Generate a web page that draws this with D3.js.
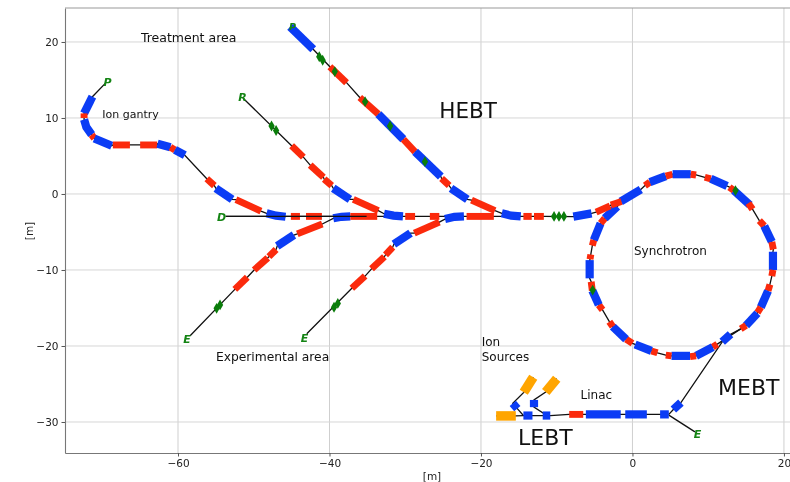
<!DOCTYPE html>
<html>
<head>
<meta charset="utf-8">
<script src="https://cdn.jsdelivr.net/npm/d3@7/dist/d3.min.js"></script>
<style>
html,body{margin:0;padding:0;background:#fff;overflow:hidden}
text{font-family:"DejaVu Sans",sans-serif}
svg{display:block;filter:blur(0.4px)}
</style>
</head>
<body>
<svg id="chart" width="790" height="482"></svg>
<script>
// Beamline elements in metres: [kind, x1, y1, (xm, ym,) x2, y2]. B = dipole, Q = quadrupole, S = source
const gantryMarks = [
 ["B",-71.3,12.8,-72.4,10.6],["Q",-72.4,10.6,-72.4,10.0],["B",-72.4,9.8,-72.1,8.8,-71.4,7.8],["Q",-71.4,7.8,-71.05,7.3],
 ["B",-71.05,7.3,-68.75,6.35],["Q",-68.6,6.45,-66.35,6.45],["Q",-65.0,6.45,-62.75,6.45],["B",-62.7,6.6,-61.0,6.15],
 ["Q",-61.0,6.15,-60.4,5.8],["B",-60.4,5.8,-59.1,5.1],["Q",-56.2,2.0,-55.2,1.1],["B",-55.0,0.75,-52.85,-0.7],
 ["Q",-52.35,-0.75,-49.05,-2.25],["B",-48.3,-2.55,-47.05,-2.85,-45.8,-3.0]
];
const gantryStart = [-69.6,14.55];
const roomRMarks = [
 ["Q",-45,6.35,-43.45,4.85],["Q",-42.55,3.8,-40.8,2.2],["Q",-40.7,1.95,-39.7,1.1],["B",-39.5,0.75,-37.3,-0.7],
 ["Q",-36.85,-0.7,-33.55,-2.2],["B",-32.8,-2.6,-31.55,-2.85,-30.3,-2.95]
];
const roomRStart = [-51.4,12.6];
const hebtMarks = [
 ["B",-45.2,22.0,-42.15,19.05],["Q",-39.95,16.75,-37.75,14.65],["Q",-36,12.7,-33.55,10.5],["B",-33.55,10.5,-30.25,7.2],
 ["Q",-30.25,7.2,-28.7,5.55],["B",-28.7,5.55,-25.3,2.3],["Q",-25.2,2.05,-24.2,1.1],["B",-23.95,0.75,-21.8,-0.7],
 ["Q",-21.25,-0.8,-18.15,-2.2],["B",-17.25,-2.55,-16,-2.85,-14.75,-2.95]
];
const exp1Marks = [
 ["Q",-52.5,-12.55,-50.85,-10.95],["Q",-49.95,-10,-48.15,-8.4],["Q",-48,-8.25,-47.05,-7.3],["B",-46.9,-6.85,-44.7,-5.4],
 ["Q",-44.25,-5.25,-40.95,-3.95],["B",-39.5,-3.2,-38.4,-3.0,-37.25,-2.95]
];
const exp1Start = [-58.4,-18.65];
const exp2Marks = [
 ["Q",-37.05,-12.4,-35.3,-10.8],["Q",-34.45,-9.85,-32.75,-8.25],["Q",-32.6,-8,-31.65,-7],["B",-31.5,-6.6,-29.3,-5.15],
 ["Q",-28.8,-5.15,-25.5,-3.7],["B",-24.75,-3.3,-23.5,-3.0,-22.25,-2.95]
];
const exp2Start = [-43,-18.4];
const mainMarks = [
 ["Q",-45.1,-2.95,-43.9,-2.95],["Q",-43.1,-2.95,-41.0,-2.95],["Q",-37.25,-2.95,-33.7,-2.95],
 ["Q",-30.0,-2.95,-28.7,-2.95],["Q",-26.75,-2.95,-25.5,-2.95],["Q",-21.9,-2.95,-18.3,-2.95],
 ["Q",-14.4,-2.95,-13.3,-2.95],["Q",-13.0,-2.95,-11.7,-2.95],["B",-7.8,-2.98,-5.4,-2.55],
 ["Q",-4.8,-2.4,-2.95,-1.55],["Q",-2.85,-1.45,-1.45,-1.0]
];
const mainStart = [-53.7,-2.95];
const ringMarks = [
 ["B",-1.55,-1.0,1.1,0.6],["Q",1.65,1.1,2.3,1.55],["B",2.3,1.55,4.4,2.35],["Q",4.4,2.35,5.3,2.6],["B",5.3,2.6,7.7,2.6],
 ["Q",7.7,2.6,8.4,2.5],["Q",9.55,2.2,10.35,2.0],["B",10.35,2.0,12.5,1.05],["Q",12.8,0.9,13.4,0.45],["B",13.4,0.45,15.5,-1.45],
 ["Q",15.3,-1.2,15.85,-2.0],["Q",16.75,-3.5,17.4,-4.2],["B",17.4,-4.2,18.4,-6.3],["Q",18.4,-6.3,18.6,-7.3],["B",18.55,-7.6,18.55,-10.0],
 ["Q",18.55,-10,18.4,-10.8],["Q",18.15,-11.9,17.9,-12.75],["B",17.9,-12.75,16.95,-14.9],["Q",16.95,-14.9,16.5,-15.6],
 ["B",16.5,-15.7,15,-17.3],["Q",15,-17.3,14.3,-17.75],["Q",11.2,-19.75,10.6,-20.15],["B",10.6,-20.15,8.4,-21.3],
 ["Q",8.4,-21.3,7.6,-21.4],["B",7.6,-21.3,5.15,-21.3],["Q",5.15,-21.3,4.4,-21.2],["Q",3.3,-20.9,2.5,-20.65],["B",2.5,-20.65,0.35,-19.8],
 ["Q",0,-19.65,-0.85,-19.1],["B",-0.85,-19.1,-2.6,-17.45],["Q",-2.6,-17.45,-3.05,-16.8],["Q",-3.95,-15.25,-4.45,-14.6],
 ["B",-4.45,-14.6,-5.3,-12.7],["Q",-5.3,-12.7,-5.45,-11.55],["B",-5.65,-11.1,-5.65,-8.7],["Q",-5.6,-8.6,-5.5,-7.95],
 ["Q",-5.3,-6.8,-5.1,-6.05],["B",-5.1,-6.05,-4.2,-3.85],["Q",-4.2,-3.85,-3.65,-3.2],["B",-3.65,-3.2,-2.0,-1.65]
];
const linacMarks = [
 ["S",-18.0,-29.2,-15.4,-29.2],["B",-14.4,-29.15,-13.2,-29.15],["B",-11.85,-29.15,-10.85,-29.15],["Q",-8.35,-29,-6.5,-29],
 ["B",-6.15,-29,-1.55,-29],["B",-0.95,-29,1.9,-29],["B",3.65,-29,4.8,-29]
];
const source1Marks = [["S",-13.1,-24.1,-14.35,-26.1],["B",-15.8,-27.55,-15.2,-28.25]];
const source1End = [-14.4,-29.15];
const source2Marks = [["S",-10,-24.3,-11.45,-26.05],["B",-13,-27.1,-13,-28.05]];
const source2End = [-11.3,-29.15];
const mebtMarks = [["B",5.4,-28.35,6.4,-27.45],["B",11.85,-19.45,12.95,-18.45]];
const mebtStart = [4.8,-29];
const mebtEnd = [14.3,-17.75];
const linacEndLine = [[4.8,-29.1],[8.25,-31.3]];
const monitorX = [-41.35,-40.9,-39.3,-35.3,-32,-27.4,-47.65,-47.05,-54.9,-54.45,-39.4,-38.9,-10.35,-9.7,-9.05,13.6,-5.25];
const monitorY = [18.05,17.6,16.1,12.15,8.95,4.25,8.95,8.35,-15.05,-14.6,-14.9,-14.4,-2.95,-2.95,-2.95,0.45,-12.65];
const endLetters = ["P","R","D","E","E","E","P"];
const endX = [-69.3,-51.5,-54.25,-58.8,-43.3,8.6,-44.9];
const endY = [14.75,12.75,-3.05,-19.05,-18.9,-31.55,22.0];
const endSize = [11,11,11,11,11,11,9.5];
const noteLabels = ["Treatment area","Ion gantry","HEBT","Synchrotron","Experimental area","Ion","Sources","Linac","MEBT","LEBT"];
const noteX = [-64.9,-70,-25.5,0.2,-55,-19.9,-19.9,-6.85,11.3,-15.1];
const noteY = [20,10,10,-8,-22,-20,-22,-27,-26.4,-33];
const noteSize = [12.5,11,21.5,12,12.3,12,12,12,22,22];
const xTicks = [-60,-40,-20,0,20];
const yTicks = [20,10,0,-10,-20,-30];

const x = d3.scaleLinear().domain([-74.92,20.8]).range([65,790]);
const y = d3.scaleLinear().domain([24.47,-34.08]).range([8,453]);
const svg = d3.select("#chart");
const colour = {B:"#0b3cf5",Q:"#fb2a0c",S:"#ffa500"};
const width = {B:8.2,Q:6.9,S:9.5};
const line = d3.line().x(d=>x(d[0])).y(d=>y(d[1]));
const pts = m => d3.range(1,m.length,2).map(i=>[m[i],m[i+1]]);

// grid
const grid = svg.append("g").attr("stroke-width",1);
grid.selectAll("line.v").data(xTicks).join("line").attr("stroke","#cfcfcf").attr("x1",d=>x(d)).attr("x2",d=>x(d)).attr("y1",y.range()[0]).attr("y2",y.range()[1]);
grid.selectAll("line.h").data(yTicks).join("line").attr("stroke","#d6d6d6").attr("y1",d=>y(d)).attr("y2",d=>y(d)).attr("x1",x.range()[0]).attr("x2",x.range()[1]);

// axes
const gx = svg.append("g").attr("transform",`translate(0,${y.range()[1]})`).call(d3.axisBottom(x).tickValues(xTicks).tickSize(3.5).tickSizeOuter(0).tickPadding(3));
const gy = svg.append("g").attr("transform",`translate(${x.range()[0]},0)`).call(d3.axisLeft(y).tickValues(yTicks).tickSize(3.5).tickSizeOuter(0).tickPadding(3));
[gx,gy].forEach(g=>{
  g.selectAll("text").attr("font-size",10.5).attr("fill","#222").attr("font-family","DejaVu Sans");
  g.selectAll("line").attr("stroke","#555");
  g.select(".domain").attr("stroke","#777").attr("stroke-width",1.1);
});
svg.append("line").attr("x1",x.range()[0]).attr("x2",x.range()[1]).attr("y1",y.range()[0]).attr("y2",y.range()[0]).attr("stroke","#999").attr("stroke-width",1.1);
svg.append("text").attr("x",432).attr("y",480).attr("text-anchor","middle").attr("font-size",10.5).attr("fill","#222").text("[m]");
svg.append("text").attr("transform","translate(33,231) rotate(-90)").attr("text-anchor","middle").attr("font-size",10.5).attr("fill","#222").text("[m]");

// beamlines
const beamlines = [
 {marks:gantryMarks,start:gantryStart},
 {marks:roomRMarks,start:roomRStart},
 {marks:hebtMarks},
 {marks:exp1Marks,start:exp1Start},
 {marks:exp2Marks,start:exp2Start},
 {marks:ringMarks,closed:true},
 {marks:linacMarks},
 {marks:source1Marks,end:source1End},
 {marks:source2Marks,end:source2End},
 {marks:mebtMarks,start:mebtStart,end:mebtEnd},
 {marks:mainMarks,start:mainStart}
];
const thin = svg.append("g").attr("fill","none").attr("stroke","#111").attr("stroke-width",1.3);
beamlines.forEach(b=>{
  let p = b.marks.flatMap(pts);
  if(b.start) p=[b.start,...p];
  if(b.end) p=[...p,b.end];
  if(b.closed) p=[...p,p[0]];
  thin.append("path").attr("d",line(p));
});
thin.append("path").attr("d",line(linacEndLine));

const magnets = svg.append("g").attr("fill","none");
beamlines.forEach(b=>{
  magnets.selectAll(null).data(b.marks).join("path")
   .attr("d",m=>line(pts(m))).attr("stroke",m=>colour[m[0]]).attr("stroke-width",m=>width[m[0]]);
});
// the diagnostics line lies over the magnets
svg.append("path").attr("d",line([mainStart,[-35.1,-2.95]])).attr("fill","none").attr("stroke","#111").attr("stroke-width",1.3);

// monitors
svg.append("g").selectAll("path").data(monitorX).join("path")
  .attr("d",d3.symbol().type(d3.symbolDiamond).size(34))
  .attr("transform",(d,i)=>`translate(${x(d)},${y(monitorY[i])})`)
  .attr("fill","#0a7d0a");

// end-point letters
svg.append("g").selectAll("text").data(endLetters).join("text")
  .attr("x",(d,i)=>x(endX[i])).attr("y",(d,i)=>y(endY[i])).attr("dy","0.36em")
  .attr("text-anchor","middle").attr("font-size",(d,i)=>endSize[i]).attr("font-style","oblique").attr("font-weight","bold")
  .attr("fill","#148414").text(d=>d);

// notes
svg.append("g").selectAll("text").data(noteLabels).join("text")
  .attr("x",(d,i)=>x(noteX[i])).attr("y",(d,i)=>y(noteY[i]))
  .attr("font-size",(d,i)=>noteSize[i]).attr("fill","#111").text(d=>d);
</script>
</body>
</html>
